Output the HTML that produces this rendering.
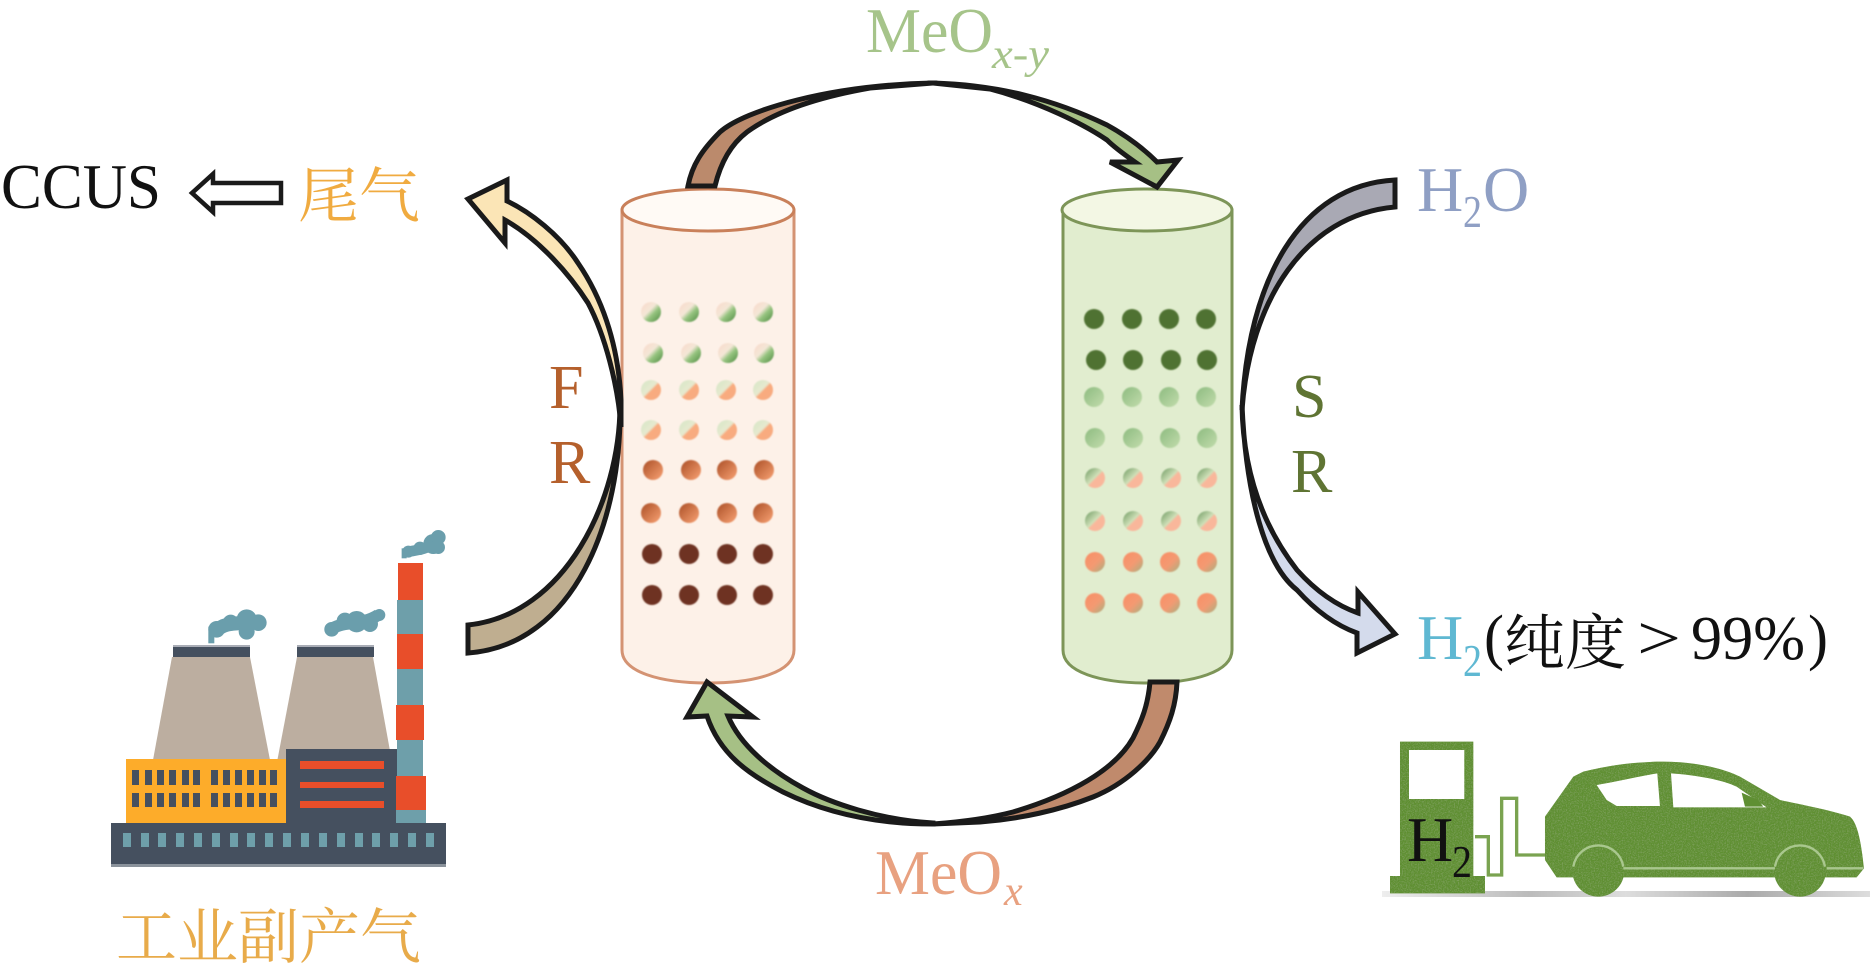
<!DOCTYPE html>
<html><head><meta charset="utf-8">
<style>
html,body{margin:0;padding:0;background:#fff}
svg{display:block}
text{font-family:"Liberation Serif","Noto Serif CJK SC",serif}
</style></head><body>
<svg width="1871" height="965" viewBox="0 0 1871 965" xmlns="http://www.w3.org/2000/svg">
<defs>
<linearGradient id="a1" x1="0" y1="0" x2="1" y2="1"><stop offset="0" stop-color="#fbdacb"/><stop offset=".42" stop-color="#f3e6d6"/><stop offset=".6" stop-color="#96c480"/><stop offset="1" stop-color="#4f8a42"/></linearGradient>
<linearGradient id="a2" x1="0" y1="0" x2="1" y2="1"><stop offset="0" stop-color="#d6e6c6"/><stop offset=".46" stop-color="#e6e9cf"/><stop offset=".54" stop-color="#f9ab7e"/><stop offset="1" stop-color="#f6ab82"/></linearGradient>
<linearGradient id="a3" x1="0" y1="0" x2="1" y2="1"><stop offset="0" stop-color="#aa4f26"/><stop offset="1" stop-color="#f9a274"/></linearGradient>
<linearGradient id="b2" x1="0" y1="0" x2="1" y2="1"><stop offset="0" stop-color="#8dbb80"/><stop offset="1" stop-color="#c2dcac"/></linearGradient>
<linearGradient id="b3" x1="0" y1="0" x2="1" y2="1"><stop offset="0" stop-color="#6e9a62"/><stop offset=".48" stop-color="#cfe0b8"/><stop offset=".55" stop-color="#f9b79b"/><stop offset="1" stop-color="#f9b79b"/></linearGradient>
<linearGradient id="b4" x1="0" y1="0" x2="1" y2="1"><stop offset="0" stop-color="#f98e66"/><stop offset=".55" stop-color="#f39a72"/><stop offset="1" stop-color="#a8b080"/></linearGradient>
<linearGradient id="sh" x1="0" y1="0" x2="1" y2="0"><stop offset="0" stop-color="#eee"/><stop offset=".3" stop-color="#bbb"/><stop offset=".5" stop-color="#ddd"/><stop offset=".75" stop-color="#aaa"/><stop offset="1" stop-color="#ddd"/></linearGradient>
<filter id="soft" x="-2%" y="-2%" width="104%" height="104%"><feGaussianBlur stdDeviation=".8"/></filter>
<filter id="grass" x="0" y="0" width="100%" height="100%"><feTurbulence type="fractalNoise" baseFrequency=".25" numOctaves="2" seed="4" result="n"/><feColorMatrix in="n" type="matrix" values="0 0 0 0 .2  0 0 0 0 .35  0 0 0 0 .1  0 0 0 3 -1.3" result="d"/><feComposite in="d" in2="SourceAlpha" operator="in" result="c"/><feMerge><feMergeNode in="SourceGraphic"/><feMergeNode in="c"/></feMerge></filter>
</defs>
<rect width="1871" height="965" fill="#fff"/>

<!-- left cylinder -->
<path d="M622 210V650C622 672 660 683 708 683C756 683 794 672 794 650V210Z" fill="#fdf1e8" stroke="#d49373" stroke-width="3"/>
<ellipse cx="708" cy="210" rx="86" ry="21" fill="#fffaf5" stroke="#c9805a" stroke-width="3"/>
<!-- right cylinder -->
<path d="M1063 210V650C1063 672 1100 683 1147 683C1194 683 1232 672 1232 650V210Z" fill="#e1edcf" stroke="#7d9558" stroke-width="3"/>
<ellipse cx="1147" cy="210" rx="85" ry="21" fill="#f3f7e4" stroke="#7d9558" stroke-width="3"/>

<g filter="url(#soft)">
<!-- left dots -->
<g fill="url(#a1)"><circle cx="651" cy="312" r="10"/><circle cx="689" cy="312" r="10"/><circle cx="726" cy="312" r="10"/><circle cx="763" cy="312" r="10"/><circle cx="653" cy="353" r="10"/><circle cx="691" cy="353" r="10"/><circle cx="728" cy="353" r="10"/><circle cx="764" cy="353" r="10"/></g>
<g fill="url(#a2)"><circle cx="651" cy="390" r="10"/><circle cx="689" cy="390" r="10"/><circle cx="726" cy="390" r="10"/><circle cx="763" cy="390" r="10"/><circle cx="651" cy="430" r="10"/><circle cx="689" cy="430" r="10"/><circle cx="727" cy="430" r="10"/><circle cx="763" cy="430" r="10"/></g>
<g fill="url(#a3)"><circle cx="653" cy="470" r="10"/><circle cx="691" cy="470" r="10"/><circle cx="727" cy="470" r="10"/><circle cx="764" cy="470" r="10"/><circle cx="651" cy="513" r="10"/><circle cx="689" cy="513" r="10"/><circle cx="727" cy="513" r="10"/><circle cx="763" cy="513" r="10"/></g>
<g fill="#6e3320"><circle cx="652" cy="554" r="10"/><circle cx="689" cy="554" r="10"/><circle cx="727" cy="554" r="10"/><circle cx="763" cy="554" r="10"/><circle cx="652" cy="595" r="10"/><circle cx="689" cy="595" r="10"/><circle cx="727" cy="595" r="10"/><circle cx="763" cy="595" r="10"/></g>
<!-- right dots -->
<g fill="#4f7230"><circle cx="1094" cy="319" r="10"/><circle cx="1132" cy="319" r="10"/><circle cx="1169" cy="319" r="10"/><circle cx="1206" cy="319" r="10"/><circle cx="1096" cy="360" r="10"/><circle cx="1133" cy="360" r="10"/><circle cx="1171" cy="360" r="10"/><circle cx="1207" cy="360" r="10"/></g>
<g fill="url(#b2)"><circle cx="1094" cy="397" r="10"/><circle cx="1132" cy="397" r="10"/><circle cx="1169" cy="397" r="10"/><circle cx="1206" cy="397" r="10"/><circle cx="1095" cy="438" r="10"/><circle cx="1133" cy="438" r="10"/><circle cx="1170" cy="438" r="10"/><circle cx="1207" cy="438" r="10"/></g>
<g fill="url(#b3)"><circle cx="1095" cy="478" r="10"/><circle cx="1133" cy="478" r="10"/><circle cx="1171" cy="478" r="10"/><circle cx="1207" cy="478" r="10"/><circle cx="1095" cy="521" r="10"/><circle cx="1133" cy="521" r="10"/><circle cx="1171" cy="521" r="10"/><circle cx="1207" cy="521" r="10"/></g>
<g fill="url(#b4)"><circle cx="1095" cy="562" r="10"/><circle cx="1133" cy="562" r="10"/><circle cx="1170" cy="562" r="10"/><circle cx="1207" cy="562" r="10"/><circle cx="1095" cy="603" r="10"/><circle cx="1133" cy="603" r="10"/><circle cx="1170" cy="603" r="10"/><circle cx="1207" cy="603" r="10"/></g>
</g>

<!-- arrows -->
<g stroke="#1a1a1a" stroke-width="5" stroke-linejoin="miter">
<!-- top brown -->
<path d="M688 186C692 165 702 150 720 132C745 110 830 85 933 83L870 88C830 95 780 108 747 132C730 145 720 165 715 186Z" fill="#bb8a6c"/>
<!-- top green -->
<path d="M933 83C1000 85 1055 100 1107 125C1125 135 1143 148 1157 162L1178 160L1157 187L1110 162L1135 162C1125 155 1115 148 1107 140C1085 125 1040 102 990 89Z" fill="#a6c085"/>
<!-- tail gas -->
<path d="M507 201C530 212 560 235 578 263C600 295 618 340 621 400L621 427C618 385 605 335 588 303C570 275 540 240 505 220L505 243L468 199L507 180Z" fill="#fbe5b6"/>
<!-- tail gas lower -->
<path d="M620 405C620 500 565 615 468 625L468 653C575 645 622 520 620 405Z" fill="#bfae90"/>
<!-- h2o -->
<path d="M1395 180C1300 185 1248 280 1242 410C1250 300 1305 215 1395 207Z" fill="#a9a9b4"/>
<!-- h2 out -->
<path d="M1242 405C1243 470 1262 525 1297 570C1315 590 1335 605 1358 613L1358 592L1395 634L1357 653L1357 633C1335 625 1315 610 1297 590C1265 565 1246 495 1242 405Z" fill="#d4dbec"/>
<!-- bottom brown -->
<path d="M1150 682C1148 705 1142 720 1133 738C1115 770 1070 795 1013 812C990 818 960 822 933 824L980 822C1020 819 1060 810 1093 797C1125 784 1150 760 1160 742C1170 722 1176 705 1177 682Z" fill="#c08a6c"/>
<!-- bottom green -->
<path d="M933 824C880 824 830 815 783 792C750 775 720 755 707 716L687 717L707 682L753 717L728 716C740 745 770 770 803 788C830 803 880 820 933 823Z" fill="#a6c085"/>
<path d="M281 183H213V174L192 193L213 212V203H281Z" fill="#fff" stroke-width="4.5"/>
</g>

<!-- factory -->
<g>
<path d="M172 657L153 760H270L250 657Z" fill="#bcaea0"/>
<path d="M297 657L277 762H392L373 657Z" fill="#bcaea0"/>
<rect x="173" y="645" width="77" height="3" fill="#a9adb6"/><rect x="173" y="647" width="77" height="10" fill="#45505f"/>
<rect x="297" y="645" width="77" height="3" fill="#a9adb6"/><rect x="297" y="647" width="77" height="10" fill="#45505f"/>
<g transform="translate(100 520) scale(.3333)" fill="#6a9eac">
<rect x="325" y="320" width="18" height="50"/>
<path d="M345 335C380 300 420 315 470 305" fill="none" stroke="#6a9eac" stroke-width="42"/>
<circle cx="350" cy="328" r="25"/><circle cx="392" cy="308" r="24"/><circle cx="440" cy="298" r="30"/><circle cx="475" cy="308" r="25"/><circle cx="440" cy="335" r="24"/>
<path d="M690 330C730 300 780 320 835 285" fill="none" stroke="#6a9eac" stroke-width="36"/>
<circle cx="695" cy="328" r="22"/><circle cx="735" cy="303" r="25"/><circle cx="770" cy="305" r="32"/><circle cx="810" cy="312" r="24"/><circle cx="838" cy="285" r="18"/>
<rect x="905" y="85" width="15" height="30"/>
<path d="M925 95C950 90 990 90 1015 55" fill="none" stroke="#6a9eac" stroke-width="32"/>
<circle cx="925" cy="95" r="18"/><circle cx="960" cy="85" r="20"/><circle cx="1000" cy="72" r="30"/><circle cx="1015" cy="52" r="22"/><circle cx="1015" cy="82" r="20"/>
</g>
<rect x="126" y="759" width="161" height="64" fill="#fdac2a"/>
<g fill="#45505f"><rect x="132" y="770" width="7" height="15"/><rect x="145" y="770" width="7" height="15"/><rect x="157" y="770" width="7" height="15"/><rect x="169" y="770" width="7" height="15"/><rect x="182" y="770" width="7" height="15"/><rect x="193" y="770" width="7" height="15"/><rect x="211" y="770" width="7" height="15"/><rect x="223" y="770" width="7" height="15"/><rect x="235" y="770" width="7" height="15"/><rect x="247" y="770" width="7" height="15"/><rect x="259" y="770" width="7" height="15"/><rect x="270" y="770" width="7" height="15"/>
<rect x="132" y="793" width="7" height="14"/><rect x="145" y="793" width="7" height="14"/><rect x="157" y="793" width="7" height="14"/><rect x="169" y="793" width="7" height="14"/><rect x="182" y="793" width="7" height="14"/><rect x="193" y="793" width="7" height="14"/><rect x="211" y="793" width="7" height="14"/><rect x="223" y="793" width="7" height="14"/><rect x="235" y="793" width="7" height="14"/><rect x="247" y="793" width="7" height="14"/><rect x="259" y="793" width="7" height="14"/><rect x="270" y="793" width="7" height="14"/></g>
<rect x="286" y="749" width="112" height="75" fill="#45505f"/>
<g fill="#e84e2a"><rect x="300" y="761" width="84" height="8"/><rect x="300" y="782" width="84" height="6"/><rect x="300" y="801" width="84" height="7"/></g>
<rect x="397" y="600" width="26" height="223" fill="#6e9faa"/>
<g fill="#e84e2a"><rect x="398" y="563" width="25" height="37"/><rect x="397" y="634" width="26" height="35"/><rect x="396" y="705" width="28" height="35"/><rect x="396" y="776" width="30" height="34"/></g>
<rect x="396" y="810" width="30" height="14" fill="#6e9faa"/>
<rect x="111" y="823" width="335" height="44" fill="#45505f"/>
<rect x="111" y="864" width="335" height="3" fill="#8a929b"/>
<g fill="#6e9faa"><rect x="123" y="833" width="8" height="14"/><rect x="141" y="833" width="8" height="14"/><rect x="158" y="833" width="8" height="14"/><rect x="176" y="833" width="8" height="14"/><rect x="194" y="833" width="8" height="14"/><rect x="212" y="833" width="8" height="14"/><rect x="230" y="833" width="8" height="14"/><rect x="247" y="833" width="8" height="14"/><rect x="265" y="833" width="8" height="14"/><rect x="283" y="833" width="8" height="14"/><rect x="301" y="833" width="8" height="14"/><rect x="319" y="833" width="8" height="14"/><rect x="337" y="833" width="8" height="14"/><rect x="355" y="833" width="8" height="14"/><rect x="372" y="833" width="8" height="14"/><rect x="390" y="833" width="8" height="14"/><rect x="408" y="833" width="8" height="14"/><rect x="426" y="833" width="8" height="14"/></g>
</g>

<!-- car -->
<rect x="1382" y="891" width="488" height="6" fill="url(#sh)"/>
<g transform="translate(1370 720) scale(.3333)">
<path d="M315 350H355V465H395V235H440V405H525" fill="none" stroke="#7aa350" stroke-width="10"/>
<g fill="#5f8f33" filter="url(#grass)">
<path fill-rule="evenodd" d="M90 65H310V468H345V520H60V468H90ZM117 90V237H283V90Z"/>
<path fill-rule="evenodd" d="M525 290L610 170L640 155C720 135 800 125 880 125C960 125 1050 140 1110 170L1230 240C1300 255 1380 270 1440 290C1465 310 1475 380 1482 445L1460 472H560L525 420ZM680 195L710 240L740 258H870L862 160C800 170 740 185 680 195ZM903 160L910 262H1190L1100 200C1060 180 980 165 903 160Z"/>
<circle cx="685" cy="452" r="78"/><circle cx="1290" cy="452" r="78"/>
</g>
<path d="M1115 218L1165 240L1180 260H1125Z" fill="#5f8f33"/>
<path d="M760 445H1215M1370 445H1480" stroke="#a9c78e" stroke-width="7" fill="none"/>
<path d="M610 440A76 76 0 0 1 760 440M1215 440A76 76 0 0 1 1365 440" fill="none" stroke="#a9c78e" stroke-width="7"/>
</g>

<!-- labels -->
<text x="1" y="208" font-size="64" fill="#111" textLength="160" lengthAdjust="spacingAndGlyphs">CCUS</text>
<text x="298" y="217" font-size="60" fill="#f0ab40" textLength="122" lengthAdjust="spacingAndGlyphs">尾气</text>
<text x="866" y="52" font-size="64" fill="#a6c48a" textLength="127" lengthAdjust="spacingAndGlyphs">MeO</text>
<text x="992" y="68" font-size="42" font-style="italic" fill="#a6c48a" textLength="57" lengthAdjust="spacingAndGlyphs">x-y</text>
<text x="549" y="408" font-size="62" fill="#b5602c">F</text>
<text x="549" y="483" font-size="62" fill="#b5602c">R</text>
<text x="1292" y="417" font-size="62" fill="#5f7433">S</text>
<text x="1291" y="492" font-size="62" fill="#5f7433">R</text>
<text x="1417" y="211" font-size="64" fill="#8f9fc4">H</text>
<text x="1463" y="227" font-size="46" fill="#8f9fc4" textLength="19" lengthAdjust="spacingAndGlyphs">2</text>
<text x="1483" y="211" font-size="64" fill="#8f9fc4">O</text>
<text x="1417" y="659" font-size="64" fill="#5fb8d2">H</text>
<text x="1463" y="676" font-size="46" fill="#5fb8d2" textLength="19" lengthAdjust="spacingAndGlyphs">2</text>
<text x="1484" y="658" font-size="62" fill="#111" textLength="20" lengthAdjust="spacingAndGlyphs">(</text>
<text x="1504" y="664" font-size="60" fill="#111" textLength="122" lengthAdjust="spacingAndGlyphs">纯度</text>
<text x="1637" y="659" font-size="62" fill="#111" textLength="44" lengthAdjust="spacingAndGlyphs">&gt;</text>
<text x="1691" y="659" font-size="62" fill="#111" textLength="114" lengthAdjust="spacingAndGlyphs">99%</text>
<text x="1808" y="658" font-size="62" fill="#111" textLength="20" lengthAdjust="spacingAndGlyphs">)</text>
<text x="116" y="958" font-size="60" fill="#e8ab4a" textLength="305" lengthAdjust="spacingAndGlyphs">工业副产气</text>
<text x="875" y="894" font-size="64" fill="#e8a180" textLength="127" lengthAdjust="spacingAndGlyphs">MeO</text>
<text x="1004" y="905" font-size="42" font-style="italic" fill="#e8a180">x</text>
<text x="1407" y="861" font-size="64" fill="#111">H</text>
<text x="1452" y="877" font-size="46" fill="#111" textLength="20" lengthAdjust="spacingAndGlyphs">2</text>
</svg>
</body></html>
